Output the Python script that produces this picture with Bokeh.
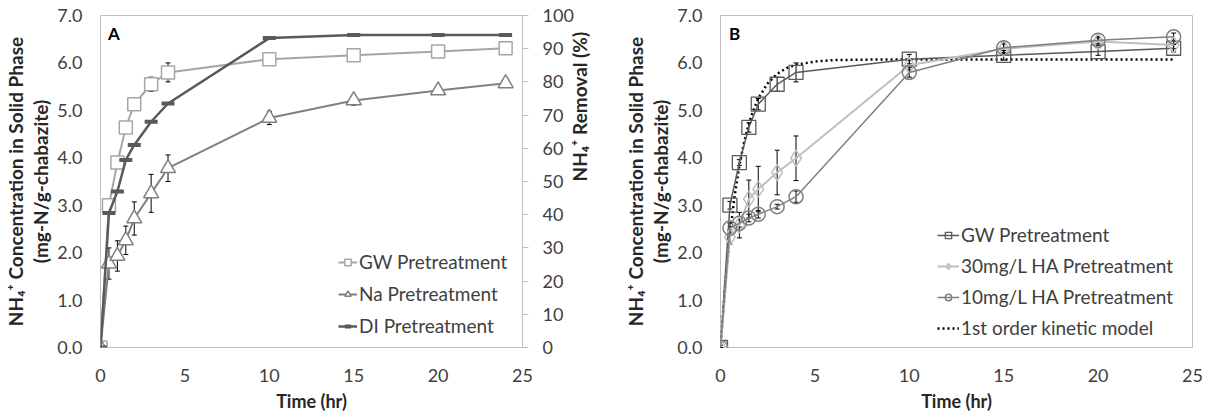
import math
from bokeh.plotting import figure
from bokeh.models import (Range1d, LinearAxis, FixedTicker, Legend, LegendItem, Whisker,
                          ColumnDataSource, TeeHead, Label, PrintfTickFormatter)
from bokeh.layouts import row
from bokeh.embed import file_html
from bokeh.resources import INLINE

# ---------------- data ----------------
time = [0, 0.5, 1, 1.5, 2, 3, 4, 10, 15, 20, 24]
gw = [0, 3.0, 3.9, 4.64, 5.13, 5.55, 5.8, 6.08, 6.16, 6.24, 6.31]
gw_err = [0.05, 0.08, 0.06, 0.1, 0.12, 0.15, 0.2, 0.1, 0.1, 0.08, 0.08]
na = [0, 1.77, 1.93, 2.26, 2.72, 3.25, 3.78, 4.84, 5.21, 5.42, 5.57]
na_err = [0, 0.33, 0.32, 0.3, 0.35, 0.4, 0.28, 0.14, 0.1, 0.07, 0.05]
di_pct = [0, 40.5, 47, 56.5, 61, 68, 73.5, 93.2, 94.1, 94.1, 94.1]
ha30 = [0, 2.33, 2.58, 3.13, 3.34, 3.69, 3.99, 5.95, 6.3, 6.45, 6.38]
ha30_err = [0, 0.15, 0.27, 0.4, 0.48, 0.47, 0.47, 0.1, 0.1, 0.08, 0.08]
ha10 = [0, 2.52, 2.62, 2.73, 2.81, 2.97, 3.18, 5.8, 6.32, 6.48, 6.55]
ha10_err = [0, 0.1, 0.08, 0.08, 0.08, 0.05, 0.12, 0.1, 0.1, 0.08, 0.08]
model_t = [0, 0.25, 0.5, 0.75, 1, 1.25, 1.5, 1.75, 2, 2.5, 3, 3.5, 4, 5, 6, 8, 10, 12, 15, 18, 20, 24]
model_q = [0, 1.34, 2.39, 3.2, 3.84, 4.33, 4.72, 5.01, 5.25, 5.57, 5.77, 5.89, 5.96, 6.03,
           6.06, 6.07, 6.07, 6.07, 6.07, 6.07, 6.07, 6.07]
x_ticks = [0, 5, 10, 15, 20, 25]
y_ticks = [0, 1, 2, 3, 4, 5, 6, 7]
pct_ticks = [0, 10, 20, 30, 40, 50, 60, 70, 80, 90, 100]

FONT = "Lato"
TXT = "#404040"
TITLE = "#262626"
FRAME = "#bfbfbf"
TICK_FS = "18px"
LEFT_LABEL = "NH\u2084\u207a Concentration in Solid Phase\n(mg-N/g-chabazite)"


def base_fig(width, min_left, min_right):
    p = figure(width=width, height=417, x_range=Range1d(0, 25), y_range=Range1d(0, 7),
               output_backend="svg", toolbar_location=None,
               min_border_left=min_left, min_border_right=min_right,
               min_border_top=15, min_border_bottom=70)
    p.grid.visible = False
    p.outline_line_color = FRAME
    p.outline_line_width = 1
    for ax in (p.xaxis[0], p.yaxis[0]):
        ax.axis_line_color = None
        ax.major_tick_line_color = None
        ax.minor_tick_line_color = None
        ax.major_tick_out = 0
        ax.major_tick_in = 0
        ax.major_label_text_font = FONT
        ax.major_label_text_font_size = TICK_FS
        ax.major_label_text_color = TXT
        ax.axis_label_text_font = FONT
        ax.axis_label_text_font_style = "bold"
        ax.axis_label_text_color = TITLE
    p.xaxis.ticker = FixedTicker(ticks=x_ticks)
    p.yaxis.ticker = FixedTicker(ticks=y_ticks)
    p.yaxis.formatter = PrintfTickFormatter(format="%.1f")
    p.xaxis.axis_label = "Time (hr)"
    p.xaxis.axis_label_text_font_size = "18px"
    p.xaxis.major_label_standoff = 21
    p.xaxis.axis_label_standoff = 5
    p.yaxis.axis_label = LEFT_LABEL
    p.yaxis.axis_label_text_font_size = "19px"
    p.yaxis.axis_label_text_line_height = 1.1
    p.yaxis.major_label_standoff = 18
    p.yaxis.axis_label_standoff = 2
    return p


def whiskers(p, xs, ys, errs):
    src = ColumnDataSource(dict(x=xs, upper=[y + e for y, e in zip(ys, errs)],
                                lower=[y - e for y, e in zip(ys, errs)]))
    w = Whisker(source=src, base="x", upper="upper", lower="lower", dimension="height",
                line_color="black", line_width=1,
                upper_head=TeeHead(size=5, line_color="black", line_width=1),
                lower_head=TeeHead(size=5, line_color="black", line_width=1))
    p.add_layout(w)


def style_legend(items, loc, glyph_w, spacing):
    lg = Legend(items=items, location=loc, label_text_font=FONT, label_text_font_size="19px",
                label_text_color=TXT, glyph_width=glyph_w, glyph_height=16, label_height=22,
                label_standoff=2, spacing=spacing, padding=0, margin=0,
                border_line_alpha=0, background_fill_alpha=0)
    return lg


# ---------------- panel A ----------------
pA = base_fig(612, 100, 90)
pA.extra_y_ranges = {"pct": Range1d(0, 100)}
rax = LinearAxis(y_range_name="pct", ticker=FixedTicker(ticks=pct_ticks))
rax.axis_line_color = FRAME
rax.major_tick_line_color = FRAME
rax.major_tick_out = 6
rax.major_tick_in = 0
rax.minor_tick_line_color = None
rax.major_label_standoff = 14
rax.major_label_text_font = FONT
rax.major_label_text_font_size = TICK_FS
rax.major_label_text_color = TXT
rax.axis_label = "NH\u2084\u207a Removal (%)"
rax.axis_label_text_font = FONT
rax.axis_label_text_font_size = "19px"
rax.axis_label_text_font_style = "bold"
rax.axis_label_text_color = TITLE
rax.axis_label_standoff = 3
rax.axis_label_orientation = math.pi / 2
pA.add_layout(rax, "right")

GW_A = "#a6a6a6"
NA_C = "#808080"
DI_C = "#595959"

l_gw = pA.line(time, gw, line_color=GW_A, line_width=2)
s_gw = pA.scatter(time, gw, marker="square", size=13, line_color=GW_A, line_width=1.5,
                  fill_color="white")
l_na = pA.line(time, na, line_color=NA_C, line_width=2)
s_na = pA.scatter(time, na, marker="triangle", size=15, line_color=NA_C, line_width=1.5,
                  fill_color="white")
l_di = pA.line(time, di_pct, y_range_name="pct", line_color=DI_C, line_width=2.5)
s_di = pA.scatter(time, di_pct, y_range_name="pct", marker="dash", size=13,
                  line_color=DI_C, line_width=4)
whiskers(pA, time, gw, gw_err)
whiskers(pA, time, na, na_err)

legA = style_legend([LegendItem(label="GW Pretreatment", renderers=[l_gw, s_gw]),
                     LegendItem(label="Na Pretreatment", renderers=[l_na, s_na]),
                     LegendItem(label="DI Pretreatment", renderers=[l_di, s_di])],
                    (238, 10), 19, 9)
pA.add_layout(legA)
pA.add_layout(Label(x=0.45, y=6.85, text="A", text_font=FONT, text_font_size="17px",
                    text_font_style="bold", text_color="black", text_baseline="top"))

# ---------------- panel B ----------------
pB = base_fig(595, 108, 15)
GW_B = "#595959"
H30_C = "#bfbfbf"
H10_C = "#808080"

m_l = pB.line(model_t, model_q, line_color="black", line_width=2.5, line_dash="2 3")
b_gw_l = pB.line(time, gw, line_color=GW_B, line_width=1.5)
b_gw_s = pB.scatter(time, gw, marker="square", size=14, line_color=GW_B, line_width=1.3,
                    fill_alpha=0)
b_h30_l = pB.line(time, ha30, line_color=H30_C, line_width=2)
b_h30_s = pB.scatter(time, ha30, marker="diamond", size=16, line_color=H30_C, line_width=1.5,
                     fill_alpha=0)
b_h10_l = pB.line(time, ha10, line_color=H10_C, line_width=1.5)
b_h10_s = pB.scatter(time, ha10, marker="circle", size=14, line_color=H10_C, line_width=1.5,
                     fill_alpha=0)
whiskers(pB, time, gw, gw_err)
whiskers(pB, time, ha30, ha30_err)
whiskers(pB, time, ha10, ha10_err)

legB = style_legend([LegendItem(label="GW Pretreatment", renderers=[b_gw_l, b_gw_s]),
                     LegendItem(label="30mg/L HA Pretreatment", renderers=[b_h30_l, b_h30_s]),
                     LegendItem(label="10mg/L HA Pretreatment", renderers=[b_h10_l, b_h10_s]),
                     LegendItem(label="1st order kinetic model", renderers=[m_l])],
                    (217, 8), 22, 8)
pB.add_layout(legB)
pB.add_layout(Label(x=0.45, y=6.85, text="B", text_font=FONT, text_font_size="17px",
                    text_font_style="bold", text_color="black", text_baseline="top"))

layout = row(pA, pB)
open("out.html", "w").write(file_html(layout, INLINE))
